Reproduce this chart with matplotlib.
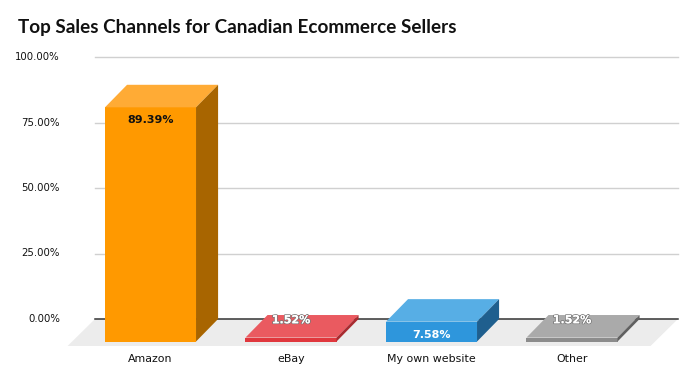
import matplotlib
matplotlib.use("Agg")
import matplotlib.pyplot as plt
from matplotlib.patches import Polygon
import matplotlib.patheffects as pe

# data
channels = ["Amazon", "eBay", "My own website", "Other"]
shares = [89.39, 1.52, 7.58, 1.52]
ytick_vals = [0, 25, 50, 75, 100]
front_colors = ["#FF9900", "#E0373D", "#2E96DC", "#8C8C8C"]
top_colors = ["#FFAB35", "#EA5A60", "#57AEE5", "#AAAAAA"]
side_colors = ["#A86500", "#A92B30", "#1F5F8E", "#606060"]

# geometry of the fake 3d (category units / percent units)
px_x = 140.5          # pixels per category
px_y = 2.62           # pixels per percent
x0_px, y0_px = 150.5, 319
hw = 0.324            # half width of a bar front
dx = 0.157            # depth offset in x
dy = 8.6              # depth offset in y
fdx, fdy = 0.195, 10.3  # floor depth
floor_left, floor_right = -0.395, 3.754

fig = plt.figure(figsize=(6.97, 3.85), dpi=100)
ax = fig.add_axes([0, 0, 1, 1])
ax.set_xlim((0 - x0_px) / px_x, (697 - x0_px) / px_x)
ax.set_ylim((y0_px - 385) / px_y, y0_px / px_y)
ax.axis("off")

# back wall gridlines
for v in ytick_vals[1:]:
    ax.plot([floor_left, floor_right], [v, v], color="#D0D0D0", lw=1, zorder=1)
for v in ytick_vals:
    ax.text(floor_left - 0.25, v, f"{v:.2f}%", ha="right", va="center",
            fontsize=7.3, color="#111111")

# floor
floor = Polygon([(floor_left, 0), (floor_right, 0),
                 (floor_right - fdx, -fdy), (floor_left - fdx, -fdy)],
                closed=True, facecolor="#ECECEC", edgecolor="none", zorder=1)
ax.add_patch(floor)
ax.plot([floor_left, floor_right], [0, 0], color="#333333", lw=1.1, zorder=2)

# bars
for i, (name, v) in enumerate(zip(channels, shares)):
    l, r = i - hw, i + hw
    front = Polygon([(l, -dy), (r, -dy), (r, v - dy), (l, v - dy)],
                    facecolor=front_colors[i], edgecolor="none", zorder=3)
    top = Polygon([(l, v - dy), (r, v - dy), (r + dx, v), (l + dx, v)],
                  facecolor=top_colors[i], edgecolor="none", zorder=3)
    side = Polygon([(r, -dy), (r + dx, 0), (r + dx, v), (r, v - dy)],
                   facecolor=side_colors[i], edgecolor="none", zorder=3)
    for p in (front, top, side):
        ax.add_patch(p)

    if v > 5:
        ly = v - dy - 5.0
    else:
        ly = v - 2.0
    if i == 0:
        ax.text(i, ly, f"{v:.2f}%", ha="center", va="center", fontsize=8,
                fontweight="bold", color="#111111", zorder=5)
    else:
        t = ax.text(i, ly, f"{v:.2f}%", ha="center", va="center", fontsize=8,
                    fontweight="bold", color="white", zorder=5)
        if v < 5:
            t.set_path_effects([pe.withStroke(linewidth=1.2, foreground="#777777"),
                                pe.Normal()])

    ax.text(i, (y0_px - 359) / px_y, name, ha="center", va="center",
            fontsize=7.9, color="#111111")

fig.text(18 / 697, 1 - 28 / 385, "Top Sales Channels for Canadian Ecommerce Sellers",
         ha="left", va="center", fontsize=13.6, fontweight="bold",
         family=["Lato", "DejaVu Sans"], color="#111111")

fig.savefig("out.png", dpi=100)
